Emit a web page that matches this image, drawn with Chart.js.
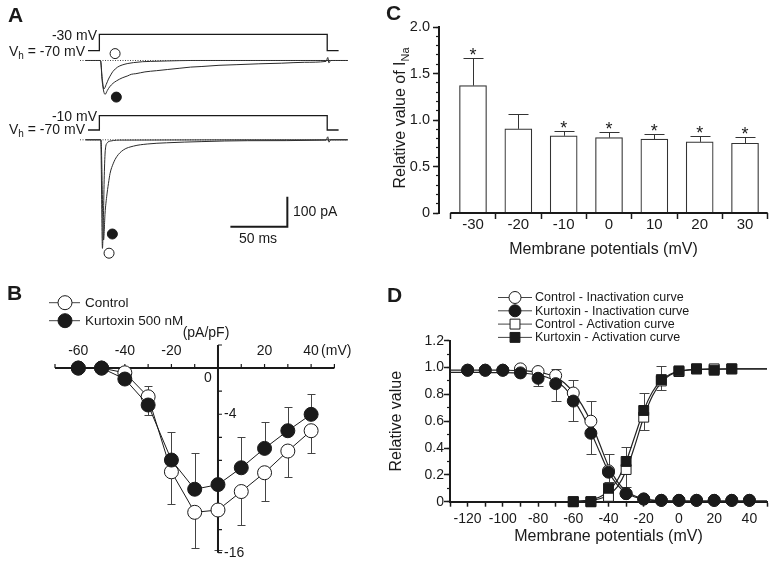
<!DOCTYPE html>
<html>
<head>
<meta charset="utf-8">
<script src="https://cdn.jsdelivr.net/npm/chart.js@4.4.1/dist/chart.umd.min.js"></script>
<style>
  body { margin: 0; background: #fff; }
  #fig { position: relative; width: 775px; height: 562px; background: #fff; overflow: hidden;
         font-family: 'Liberation Sans', Arial, Helvetica, sans-serif; color: #1a1a1a; }
  #fig canvas { position: absolute; }
  .lbl { position: absolute; font-size: 14px; line-height: 1; white-space: nowrap; }
  .lbl .sub { font-size: 10px; position: relative; top: 3px; }
  .panel { position: absolute; font-size: 21px; font-weight: bold; line-height: 1; }
</style>
</head>
<body>
<div id="fig">
  <canvas id="chartA" width="360" height="275" style="left:0;top:0"></canvas>
  <canvas id="chartC" width="405" height="280" style="left:370px;top:0"></canvas>
  <canvas id="chartB" width="375" height="282" style="left:0;top:280px"></canvas>
  <canvas id="chartD" width="395" height="282" style="left:380px;top:280px"></canvas>

  <div class="panel" style="left:8px;top:4px">A</div>
  <div class="panel" style="left:386px;top:2px">C</div>
  <div class="panel" style="left:7px;top:282px">B</div>
  <div class="panel" style="left:387px;top:284px">D</div>

  <div class="lbl" style="right:678px;top:27.5px">-30 mV</div>
  <div class="lbl" style="right:690px;top:43.8px">V<span class="sub">h</span> = -70 mV</div>
  <div class="lbl" style="right:678px;top:108.8px">-10 mV</div>
  <div class="lbl" style="right:690px;top:121.5px">V<span class="sub">h</span> = -70 mV</div>
  <div class="lbl" style="left:293px;top:203.8px">100 pA</div>
  <div class="lbl" style="left:239px;top:230.5px">50 ms</div>
</div>

<script>
// ---------- panel A: voltage protocol and current traces ----------
const stepT    = [-10, 0, 0, 200, 200, 210];
const stepTopV = [-70, -70, -30, -30, -70, -70];
const stepBotV = [-70, -70, -10, -10, -70, -70];
const baseT    = [-17, 218];
const baseI    = [0, 0];

const topCtrlT = [-12, 1, 2.5, 4, 6, 8, 10, 12, 16, 20, 25, 30, 38, 45, 60, 80, 218];
const topCtrlI = [0, 0, -60, -95, -80, -62, -48, -36, -22, -15, -10, -7, -4, -3, -1.5, 0, 0];
const topKurtT = [-12, 1, 2.5, 5, 7, 9, 12, 15, 20, 25, 28, 32, 40, 50, 60, 70, 80, 90, 105, 120, 140, 160, 180, 199, 200.5, 201.5, 203, 218];
const topKurtI = [0, 0, -70, -113, -100, -88, -76, -68, -58, -51, -46, -44, -38, -34, -30, -26, -22, -20, -16, -14, -11, -9, -6, -3, 10, -8, 0, 0];

const botCtrlT = [-12, 1.2, 2.7, 3.6, 4.3, 5.2, 7, 10, 20, 218];
const botCtrlI = [0, 0, -362, -250, -120, -35, -10, -4, -1, 0];
const botKurtT = [-12, 1.4, 3.7, 5, 6.4, 8, 9.4, 12.3, 15.3, 21, 30, 42, 59, 90, 130, 199, 200.5, 201.5, 203, 218];
const botKurtI = [0, 0, -334, -244, -190, -145, -112, -78, -56, -34, -21, -14, -10, -6, -3, -1, 10, -8, 0, 0];

const markTopT = [13.8, 14.9];   // open (control), filled (kurtoxin)
const markTopI = [23, -122];
const markBotT = [8.5, 11.4];
const markBotI = [-378, -314];
const scaleBarT = [115, 165, 165];
const scaleBarI = [-290, -290, -190];

// ---------- panel B: I-V relation ----------
const bX        = [-60, -50, -40, -30, -20, -10, 0, 10, 20, 30, 40];
const bCtrl     = [0, 0, -0.41, -2.49, -8.99, -12.5, -12.3, -10.7, -9.07, -7.19, -5.43];
const bKurt     = [0, 0, -0.95, -3.2, -7.97, -10.5, -10.1, -8.64, -6.96, -5.43, -4.01];
const bCtrlErr  = [null, null, null, -1.56, -11.8, -15.6, -15.8, -13.6, -11.5, -9.42, -7.39];
const bKurtErr  = [null, null, null, -4.07, -5.57, -7.4, null, -5.95, -4.7, -3.35, -2.25];
const bXTicks   = [-70, -60, -50, -40, -30, -20, -10, 0, 10, 20, 30, 40, 50];
const bXLabels  = [-60, -40, -20, 20, 40];
const bYTicks   = [2, 0, -2, -4, -6, -8, -10, -12, -14, -16];
const bYLabels  = [-4, -16];
const bSeries   = ['Control', 'Kurtoxin 500 nM'];

// ---------- panel C: relative I_Na ----------
const cX      = [-30, -20, -10, 0, 10, 20, 30];
const cLabels = ['-30', '-20', '-10', '0', '10', '20', '30'];
const cVal    = [1.37, 0.905, 0.83, 0.81, 0.795, 0.765, 0.75];
const cErrTop = [1.67, 1.06, 0.885, 0.87, 0.85, 0.83, 0.82];
const cStar   = [true, false, true, true, true, true, true];

// ---------- panel D: activation / inactivation ----------
const dInX      = [-120, -110, -100, -90, -80, -70, -60, -50, -40, -30, -20, -10, 0, 10, 20, 30, 40];
const dCtrlIn   = [0.98, 0.98, 0.98, 0.99, 0.97, 0.94, 0.81, 0.60, 0.23, 0.06, 0.02, 0.01, 0.01, 0.01, 0.01, 0.01, 0.01];
const dKurtIn   = [0.98, 0.98, 0.98, 0.96, 0.92, 0.88, 0.75, 0.51, 0.22, 0.06, 0.02, 0.01, 0.01, 0.01, 0.01, 0.01, 0.01];
const dCtrlInErr = [null, null, null, null, null, 0.99, 0.91, 0.75, 0.355, null, null, null, null, null, null, null, null];
const dKurtInErr = [null, null, null, null, 0.86, 0.75, 0.60, 0.355, 0.15, null, null, null, null, null, null, null, null];
const dActX     = [-60, -50, -40, -30, -20, -10, 0, 10, 20, 30];
const dCtrlAct  = [0.0, 0.0, 0.04, 0.24, 0.63, 0.90, 0.97, 0.99, 0.99, 0.99];
const dKurtAct  = [0.0, 0.0, 0.10, 0.30, 0.68, 0.91, 0.975, 0.99, 0.98, 0.99];
const dCtrlActErr = [null, null, null, 0.11, 0.535, 0.835, null, null, null, null];
const dKurtActErr = [null, null, null, 0.41, 0.81, 1.01, null, null, null, null];

const dFitInX    = [-130, -120, -110, -100, -90, -80, -75, -70, -65, -60, -55, -50, -45, -40, -35, -30, -25, -20, -15, -10, 0, 10, 20, 30, 40, 50];
const dFitCtrlIn = [0.981, 0.981, 0.981, 0.98, 0.977, 0.966, 0.952, 0.928, 0.885, 0.815, 0.72, 0.595, 0.43, 0.265, 0.15, 0.08, 0.042, 0.022, 0.012, 0.008, 0.005, 0.004, 0.004, 0.004, 0.004, 0.004];
const dFitKurtIn = [0.964, 0.964, 0.963, 0.962, 0.958, 0.945, 0.928, 0.9, 0.85, 0.765, 0.655, 0.52, 0.37, 0.225, 0.125, 0.065, 0.035, 0.018, 0.01, 0.007, 0.005, 0.004, 0.004, 0.004, 0.004, 0.004];
const dFitActX    = [-60, -55, -50, -45, -40, -35, -30, -25, -20, -15, -10, -5, 0, 10, 20, 30, 40, 50];
const dFitCtrlAct = [0.002, 0.004, 0.01, 0.022, 0.05, 0.11, 0.23, 0.42, 0.63, 0.79, 0.89, 0.945, 0.97, 0.985, 0.988, 0.99, 0.99, 0.99];
const dFitKurtAct = [0.003, 0.006, 0.015, 0.035, 0.08, 0.16, 0.30, 0.49, 0.68, 0.82, 0.905, 0.95, 0.972, 0.985, 0.988, 0.99, 0.99, 0.99];
const dSeries = ['Control - Inactivation curve', 'Kurtoxin - Inactivation curve',
                 'Control - Activation curve', 'Kurtoxin - Activation curve'];

// ---------- shared ----------
const INK = '#1a1a1a';
const FONT = "'Liberation Sans', Arial, Helvetica, sans-serif";
Chart.defaults.font.family = FONT;
Chart.defaults.color = INK;
Chart.defaults.animation = false;
Chart.defaults.responsive = false;
Chart.defaults.plugins.legend.display = false;
Chart.defaults.plugins.tooltip.enabled = false;

const pts = (xs, ys) => xs.map((x, i) => ({ x, y: ys[i] })).filter(p => p.y !== null && p.y !== undefined);

function line(xs, ys, yAxisID, extra) {
  return Object.assign({
    data: pts(xs, ys), yAxisID, borderColor: '#2a2a2a', borderWidth: 1,
    pointRadius: 0, tension: 0, fill: false, clip: false
  }, extra || {});
}

function errBars(ctx, xs, means, ends, sx, sy, cap, color) {
  ctx.save();
  ctx.strokeStyle = color;
  ctx.lineWidth = 1;
  ctx.beginPath();
  xs.forEach((xv, i) => {
    if (ends[i] === null || ends[i] === undefined) return;
    const px = Math.round(sx.getPixelForValue(xv)) + 0.5;
    const p0 = sy.getPixelForValue(means[i]);
    const p1 = Math.round(sy.getPixelForValue(ends[i])) + 0.5;
    ctx.moveTo(px, p0); ctx.lineTo(px, p1);
    ctx.moveTo(px - cap / 2, p1); ctx.lineTo(px + cap / 2, p1);
  });
  ctx.stroke();
  ctx.restore();
}

function marker(ctx, style, filled, x, y, r) {
  ctx.beginPath();
  if (style === 'rect') {
    const s = r * Math.SQRT1_2;
    ctx.rect(x - s, y - s, 2 * s, 2 * s);
  } else {
    ctx.arc(x, y, r, 0, Math.PI * 2);
  }
  ctx.fillStyle = filled ? INK : '#fff';
  ctx.fill();
  ctx.strokeStyle = INK;
  ctx.lineWidth = 1;
  ctx.stroke();
}

function keyRows(ctx, rows, x0, x1, xm, xt, font) {
  ctx.save();
  rows.forEach(r => {
    ctx.strokeStyle = '#444';
    ctx.lineWidth = 1;
    ctx.beginPath(); ctx.moveTo(x0, r.y); ctx.lineTo(x1, r.y); ctx.stroke();
    marker(ctx, r.style, r.filled, xm, r.y, r.radius);
    ctx.fillStyle = INK;
    ctx.font = font;
    ctx.textAlign = 'left';
    ctx.textBaseline = 'middle';
    ctx.fillText(r.label, xt, r.y + 0.5);
  });
  ctx.restore();
}

// ---------- chart A ----------
new Chart(document.getElementById('chartA'), {
  type: 'line',
  data: {
    datasets: [
      line(stepT, stepTopV, 'vTop', { borderColor: INK, borderWidth: 1.3 }),
      line(stepT, stepBotV, 'vBot', { borderColor: INK, borderWidth: 1.3 }),
      line(baseT, baseI, 'iTop', { borderColor: '#444', borderDash: [1, 1.5] }),
      line(baseT, baseI, 'iBot', { borderColor: '#444', borderDash: [1, 1.5] }),
      line(topCtrlT, topCtrlI, 'iTop', { cubicInterpolationMode: 'monotone' }),
      line(topKurtT, topKurtI, 'iTop', { cubicInterpolationMode: 'monotone' }),
      line(botCtrlT, botCtrlI, 'iBot', { cubicInterpolationMode: 'monotone' }),
      line(botKurtT, botKurtI, 'iBot', { cubicInterpolationMode: 'monotone' }),
      line(scaleBarT, scaleBarI, 'iBot', { borderColor: INK, borderWidth: 2 }),
      line([markTopT[0]], [markTopI[0]], 'iTop', { showLine: false, pointRadius: 5, pointBackgroundColor: '#fff', pointBorderColor: INK, pointBorderWidth: 1 }),
      line([markTopT[1]], [markTopI[1]], 'iTop', { showLine: false, pointRadius: 5, pointBackgroundColor: INK, pointBorderColor: INK, pointBorderWidth: 1 }),
      line([markBotT[0]], [markBotI[0]], 'iBot', { showLine: false, pointRadius: 5, pointBackgroundColor: '#fff', pointBorderColor: INK, pointBorderWidth: 1 }),
      line([markBotT[1]], [markBotI[1]], 'iBot', { showLine: false, pointRadius: 5, pointBackgroundColor: INK, pointBorderColor: INK, pointBorderWidth: 1 })
    ]
  },
  options: {
    layout: { padding: { left: 80, right: 10, top: 20, bottom: 10 } },
    scales: {
      x:    { type: 'linear', min: -17, max: 220, display: false },
      vTop: { axis: 'y', position: 'left', type: 'linear', min: -592.7, max: 4.9, display: false },
      vBot: { axis: 'y', position: 'left', type: 'linear', min: -636.5, max: 391.6, display: false },
      iTop: { axis: 'y', position: 'left', type: 'linear', min: -681.7, max: 135, display: false },
      iBot: { axis: 'y', position: 'left', type: 'linear', min: -417.3, max: 399.3, display: false }
    }
  }
});

// ---------- chart B ----------
const bPlugin = {
  id: 'bPlugin',
  beforeDatasetsDraw(chart) {
    const { ctx, scales: { x, y } } = chart;
    const x0 = x.getPixelForValue(0), y0 = y.getPixelForValue(0);
    errBars(ctx, bX, bCtrl, bCtrlErr, x, y, 8, '#444');
    errBars(ctx, bX, bKurt, bKurtErr, x, y, 8, '#444');
    ctx.save();
    ctx.strokeStyle = INK;
    ctx.lineWidth = 2;
    ctx.beginPath();
    ctx.moveTo(x.getPixelForValue(x.min), y0); ctx.lineTo(x.getPixelForValue(x.max), y0);
    ctx.moveTo(x0, y.getPixelForValue(y.max)); ctx.lineTo(x0, y.getPixelForValue(y.min));
    ctx.stroke();
    ctx.lineWidth = 1.2;
    ctx.beginPath();
    bXTicks.forEach(v => { const p = x.getPixelForValue(v); ctx.moveTo(p, y0); ctx.lineTo(p, y0 - 4); });
    bYTicks.forEach(v => { const p = y.getPixelForValue(v); ctx.moveTo(x0, p); ctx.lineTo(x0 + 4, p); });
    ctx.stroke();
    ctx.fillStyle = INK;
    ctx.font = '14px ' + FONT;
    ctx.textBaseline = 'middle';
    ctx.textAlign = 'center';
    bXLabels.forEach(v => ctx.fillText(String(v), x.getPixelForValue(v), y0 - 17));
    ctx.fillText('0', x0 - 10, y0 + 10);
    ctx.fillText('(pA/pF)', x0 - 12, y0 - 35);
    ctx.textAlign = 'left';
    ctx.fillText('(mV)', x.getPixelForValue(40) + 10, y0 - 17);
    bYLabels.forEach(v => ctx.fillText(String(v), x0 + 6, y.getPixelForValue(v)));
    ctx.restore();
  },
  afterDraw(chart) {
    keyRows(chart.ctx, [
      { y: 22.7, style: 'circle', filled: false, radius: 7, label: bSeries[0] },
      { y: 40.7, style: 'circle', filled: true, radius: 7, label: bSeries[1] }
    ], 49, 80, 65, 85, '13.5px ' + FONT);
  }
};

new Chart(document.getElementById('chartB'), {
  type: 'line',
  data: {
    datasets: [
      line(bX, bCtrl, 'y', { label: bSeries[0], order: 2, borderColor: INK, pointRadius: 7, pointBackgroundColor: '#fff', pointBorderColor: INK, pointBorderWidth: 1 }),
      line(bX, bKurt, 'y', { label: bSeries[1], order: 1, borderColor: INK, pointRadius: 7, pointBackgroundColor: INK, pointBorderColor: INK, pointBorderWidth: 1 })
    ]
  },
  options: {
    layout: { padding: { left: 55, right: 40.6, top: 65, bottom: 9.3 } },
    scales: {
      x: { type: 'linear', min: -70, max: 50, display: false },
      y: { type: 'linear', min: -16, max: 2, display: false }
    }
  },
  plugins: [bPlugin]
});

// ---------- chart C ----------
const cTicks = [cX[0] - 5].concat(...cX.map(v => [v, v + 5]));

const cPlugin = {
  id: 'cPlugin',
  afterDatasetsDraw(chart) {
    const { ctx, scales: { x, y } } = chart;
    const y0 = y.getPixelForValue(0);
    ctx.save();
    ctx.strokeStyle = INK;
    ctx.lineWidth = 2;
    ctx.beginPath();
    ctx.moveTo(x.getPixelForValue(cTicks[0]), y0);
    ctx.lineTo(x.getPixelForValue(cTicks[cTicks.length - 1]), y0);
    ctx.stroke();
    ctx.restore();
    errBars(ctx, cX, cVal, cErrTop, x, y, 20, '#333');
    ctx.save();
    ctx.fillStyle = INK;
    ctx.font = '18px ' + FONT;
    ctx.textAlign = 'center';
    ctx.textBaseline = 'alphabetic';
    cX.forEach((v, i) => {
      if (cStar[i]) ctx.fillText('*', x.getPixelForValue(v), y.getPixelForValue(cErrTop[i]) + 3);
    });
    // y title with subscript
    const main = 'Relative value of I', sub = 'Na';
    ctx.translate(30.7, 118);
    ctx.rotate(-Math.PI / 2);
    ctx.font = '16px ' + FONT;
    const w1 = ctx.measureText(main).width;
    ctx.font = '11px ' + FONT;
    const w2 = ctx.measureText(sub).width;
    ctx.textAlign = 'left';
    ctx.textBaseline = 'middle';
    ctx.font = '16px ' + FONT;
    ctx.fillText(main, -(w1 + w2) / 2, 0);
    ctx.font = '11px ' + FONT;
    ctx.fillText(sub, -(w1 + w2) / 2 + w1, 5);
    ctx.restore();
  }
};

new Chart(document.getElementById('chartC'), {
  type: 'bar',
  data: {
    datasets: [{
      data: pts(cX, cVal), backgroundColor: '#fff', borderColor: '#333',
      borderWidth: 1.2, barThickness: 27
    }]
  },
  options: {
    layout: { padding: { left: 0, right: 7, top: 27, bottom: 0 } },
    scales: {
      x: {
        type: 'linear', min: -37.5, max: 35.07, offset: false,
        afterBuildTicks: s => { s.ticks = cTicks.map(v => ({ value: v })); },
        grid: { offset: false, drawOnChartArea: false, tickLength: 6, tickWidth: 1.5,
                tickColor: c => (c.tick && cX.includes(c.tick.value)) ? 'rgba(0,0,0,0)' : INK },
        border: { display: false },
        ticks: { autoSkip: false, maxRotation: 0, padding: -3.5, font: { size: 15 }, color: INK,
                 callback: v => { const i = cX.indexOf(v); return i < 0 ? '' : cLabels[i]; } },
        title: { display: true, text: 'Membrane potentials (mV)', font: { size: 16 }, color: INK,
                 padding: { top: 0, bottom: 21 } },
        afterFit: s => { s.height = 67; }
      },
      y: {
        type: 'linear', position: 'left', weight: 1, min: 0, max: 2,
        ticks: { stepSize: 0.5, padding: 3, font: { size: 14.5 }, color: INK,
                 callback: v => v === 0 ? '0' : v.toFixed(1) },
        grid: { drawOnChartArea: false, tickLength: 6, tickWidth: 1.5, tickColor: INK },
        border: { width: 2, color: INK },
        afterFit: s => { s.width = 69; }
      },
      yMinor: {
        axis: 'y', type: 'linear', position: 'left', weight: 0, min: 0, max: 2,
        ticks: { display: false, stepSize: 0.1, maxTicksLimit: 100 },
        grid: { drawOnChartArea: false, tickLength: 3, tickWidth: 1.2, tickColor: INK },
        border: { display: false },
        afterFit: s => { s.width = 0; }
      }
    }
  },
  plugins: [cPlugin]
});

// ---------- chart D ----------
const dPlugin = {
  id: 'dPlugin',
  beforeDatasetsDraw(chart) {
    const { ctx, scales: { x, y } } = chart;
    errBars(ctx, dInX, dCtrlIn, dCtrlInErr, x, y, 10, '#444');
    errBars(ctx, dInX, dKurtIn, dKurtInErr, x, y, 10, '#444');
    errBars(ctx, dActX, dCtrlAct, dCtrlActErr, x, y, 10, '#444');
    errBars(ctx, dActX, dKurtAct, dKurtActErr, x, y, 10, '#444');
  },
  afterDraw(chart) {
    keyRows(chart.ctx, [
      { y: 17.5, style: 'circle', filled: false, radius: 6, label: dSeries[0] },
      { y: 30.8, style: 'circle', filled: true, radius: 6, label: dSeries[1] },
      { y: 44.1, style: 'rect', filled: false, radius: 7, label: dSeries[2] },
      { y: 57.4, style: 'rect', filled: true, radius: 7, label: dSeries[3] }
    ], 118, 152, 135, 155, '12.5px ' + FONT);
  }
};

const fitStyle = { borderColor: '#222', borderWidth: 1.2, cubicInterpolationMode: 'monotone', order: 5 };
new Chart(document.getElementById('chartD'), {
  type: 'line',
  data: {
    datasets: [
      line(dFitInX, dFitCtrlIn, 'y', fitStyle),
      line(dFitInX, dFitKurtIn, 'y', fitStyle),
      line(dFitActX, dFitCtrlAct, 'y', fitStyle),
      line(dFitActX, dFitKurtAct, 'y', fitStyle),
      line(dInX, dCtrlIn, 'y', { label: dSeries[0], order: 4, showLine: false, pointRadius: 6, pointBackgroundColor: '#fff', pointBorderColor: INK, pointBorderWidth: 1 }),
      line(dInX, dKurtIn, 'y', { label: dSeries[1], order: 3, showLine: false, pointRadius: 6, pointBackgroundColor: INK, pointBorderColor: INK, pointBorderWidth: 1 }),
      line(dActX, dCtrlAct, 'y', { label: dSeries[2], order: 2, showLine: false, pointStyle: 'rect', pointRadius: 7, pointBackgroundColor: '#fff', pointBorderColor: INK, pointBorderWidth: 1 }),
      line(dActX, dKurtAct, 'y', { label: dSeries[3], order: 1, showLine: false, pointStyle: 'rect', pointRadius: 7, pointBackgroundColor: INK, pointBorderColor: INK, pointBorderWidth: 1 })
    ]
  },
  options: {
    layout: { padding: { left: 0, right: 7.3, top: 60.7, bottom: 0 } },
    scales: {
      x: {
        type: 'linear', min: -130, max: 50,
        ticks: { stepSize: 10, maxTicksLimit: 100, autoSkip: false, maxRotation: 0, padding: 4.2,
                 font: { size: 14 }, color: INK, callback: v => v % 20 === 0 ? String(v) : '' },
        grid: { drawOnChartArea: false, tickLength: 5, tickWidth: 1.5, tickColor: INK },
        border: { width: 2, color: INK },
        title: { display: true, text: 'Membrane potentials (mV)', font: { size: 16 }, color: INK,
                 padding: { top: 0, bottom: 15.7 } },
        afterFit: s => { s.height = 60.3; }
      },
      y: {
        type: 'linear', position: 'left', weight: 1, min: 0, max: 1.2,
        ticks: { stepSize: 0.2, padding: 0, font: { size: 14 }, color: INK,
                 callback: v => Math.abs(v) < 1e-9 ? '0' : v.toFixed(1) },
        grid: { drawOnChartArea: false, tickLength: 6, tickWidth: 1.5, tickColor: INK },
        border: { width: 2, color: INK },
        title: { display: true, text: 'Relative value', font: { size: 16 }, color: INK,
                 padding: { top: 7, bottom: 0 } },
        afterFit: s => { s.width = 70; }
      },
      yMinor: {
        axis: 'y', type: 'linear', position: 'left', weight: 0, min: 0, max: 1.2,
        ticks: { display: false, stepSize: 0.1, maxTicksLimit: 100 },
        grid: { drawOnChartArea: false, tickLength: 3, tickWidth: 1.2, tickColor: INK },
        border: { display: false },
        afterFit: s => { s.width = 0; }
      }
    }
  },
  plugins: [dPlugin]
});
</script>
</body>
</html>
